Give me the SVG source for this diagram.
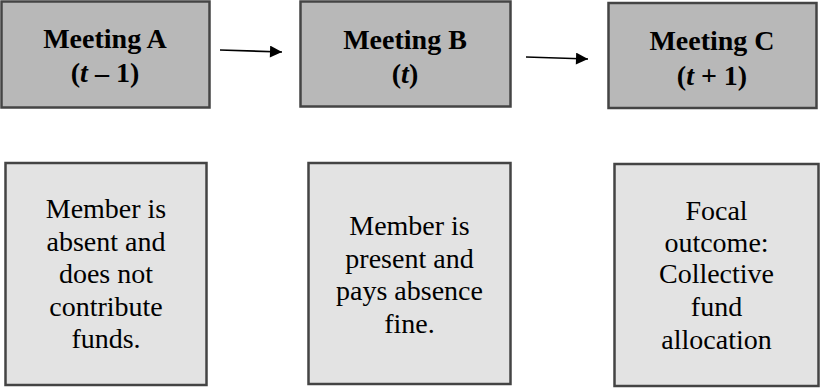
<svg xmlns="http://www.w3.org/2000/svg" width="820" height="388" viewBox="0 0 820 388">
<style>
.top{fill:#b8b8b8;stroke:#444;stroke-width:2.5}
.bot{fill:#e3e3e3;stroke:#444;stroke-width:2.5}
text{font-size:28px;fill:#000;text-anchor:middle}
.tb{font-weight:bold}
.con{stroke:#000;stroke-width:1.6;fill:none}
</style>
<defs>
<marker id="ah" viewBox="0 0 10 10" refX="10" refY="5" markerWidth="14" markerHeight="12" markerUnits="userSpaceOnUse" orient="auto">
<path d="M0,0 L10,5 L0,10 z" fill="#000"/>
</marker>
</defs>
<rect width="820" height="388" fill="#fff"/>
<g font-family="Liberation Serif, DejaVu Serif, serif">
<g id="meetingA">
<rect class="top" x="1.5" y="1.5" width="208" height="106"/>
<text class="tb" x="105" y="48">Meeting A</text>
<text class="tb" x="105" y="82">(<tspan font-style="italic">t</tspan> – 1)</text>
</g>
<g id="meetingB">
<rect class="top" x="300.5" y="1.5" width="210" height="105"/>
<text class="tb" x="405" y="49">Meeting B</text>
<text class="tb" x="405" y="83">(<tspan font-style="italic">t</tspan>)</text>
</g>
<g id="meetingC">
<rect class="top" x="608.5" y="3" width="208" height="105"/>
<text class="tb" x="712" y="50">Meeting C</text>
<text class="tb" x="712" y="85">(<tspan font-style="italic">t</tspan> + 1)</text>
</g>
<g id="boxA">
<rect class="bot" x="5.5" y="163" width="201" height="222"/>
<text x="106" y="218">Member is</text>
<text x="106" y="251">absent and</text>
<text x="106" y="283">does not</text>
<text x="106" y="316">contribute</text>
<text x="106" y="348">funds.</text>
</g>
<g id="boxB">
<rect class="bot" x="308.5" y="163" width="202" height="221"/>
<text x="409.5" y="235">Member is</text>
<text x="409.5" y="268">present and</text>
<text x="409.5" y="300">pays absence</text>
<text x="409.5" y="333">fine.</text>
</g>
<g id="boxC">
<rect class="bot" x="614.5" y="164" width="204" height="222"/>
<text x="716.5" y="220">Focal</text>
<text x="716.5" y="252">outcome:</text>
<text x="716.5" y="283">Collective</text>
<text x="716.5" y="316">fund</text>
<text x="716.5" y="349">allocation</text>
</g>
</g>
<g id="connectors">
<line class="con" x1="220" y1="50" x2="282" y2="52" marker-end="url(#ah)"/>
<line class="con" x1="526" y1="57" x2="588" y2="59" marker-end="url(#ah)"/>
</g>
</svg>
